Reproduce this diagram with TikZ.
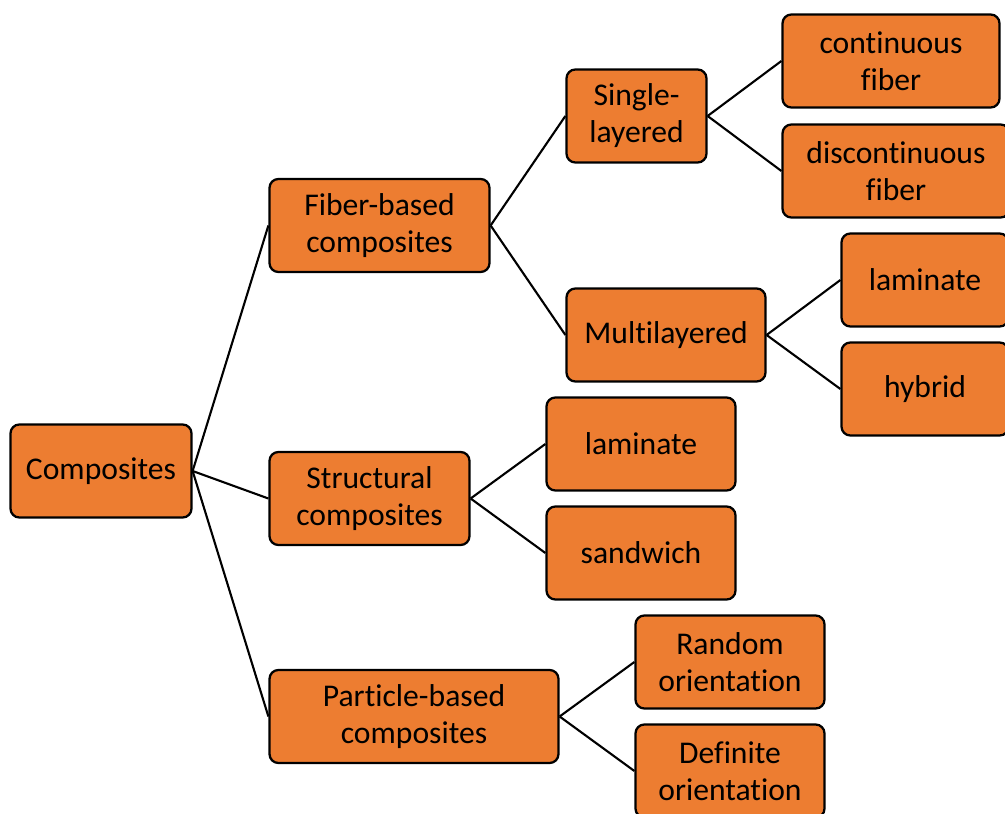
\documentclass[tikz,border=0pt]{standalone}
\usepackage{fontspec}
\setmainfont[Ligatures={NoCommon}]{Carlito}
\usepackage{tikz}
\definecolor{naranja}{HTML}{ED7D31}

\begin{document}
\begin{tikzpicture}[x=0.02cm, y=-0.02cm]

\tikzset{
  nodo/.style={rectangle, rounded corners=5pt,
    minimum height=1.86cm, draw=black, line width=1.3pt,
    fill=naranja, align=center,
    font=\fontsize{18}{21}\selectfont},
  linea/.style={line width=1.2pt, black}
}

\clip (0,0) rectangle (1005,814);

% ---- ROOT ----
\node (comp) [nodo, minimum width=3.62cm] at (101,471) {Composites};

% ---- SECOND LEVEL ----
\node (fibra)  [nodo, minimum width=4.4cm] at (379.5,225.5)
  {Fiber-based\\composites};
\node (estruc) [nodo, minimum width=4.0cm] at (369.5,498.5)
  {Structural\\composites};
\node (part)   [nodo, minimum width=5.78cm] at (414,716.5)
  {Particle-based\\composites};

% ---- THIRD LEVEL ----
\node (simple) [nodo, minimum width=2.8cm] at (636.5,116)
  {Single-\\layered};
\node (multi)  [nodo, minimum width=3.98cm] at (666,335)
  {Multilayered};
\node (lam1)   [nodo, minimum width=3.78cm] at (641,444) {laminate};
\node (sand)   [nodo, minimum width=3.78cm] at (641,553) {sandwich};
\node (random) [nodo, minimum width=3.78cm] at (730,662)
  {Random\\orientation};
\node (defin)  [nodo, minimum width=3.78cm] at (730,771)
  {Definite\\orientation};

% ---- FOURTH LEVEL ----
\node (cont)   [nodo, minimum width=4.34cm] at (891,61)
  {continuous\\fiber};
\node (discont)[nodo, minimum width=4.54cm] at (896,171)
  {discontinuous\\fiber};
\node (lam2)   [nodo, minimum width=3.34cm] at (925,280) {laminate};
\node (hibr)   [nodo, minimum width=3.34cm] at (925,389) {hybrid};

% ---- CONNECTORS ----
\draw[linea] (comp.east)   -- (fibra.west);
\draw[linea] (comp.east)   -- (estruc.west);
\draw[linea] (comp.east)   -- (part.west);
\draw[linea] (fibra.east)  -- (simple.west);
\draw[linea] (fibra.east)  -- (multi.west);
\draw[linea] (estruc.east) -- (lam1.west);
\draw[linea] (estruc.east) -- (sand.west);
\draw[linea] (part.east)   -- (random.west);
\draw[linea] (part.east)   -- (defin.west);
\draw[linea] (simple.east) -- (cont.west);
\draw[linea] (simple.east) -- (discont.west);
\draw[linea] (multi.east)  -- (lam2.west);
\draw[linea] (multi.east)  -- (hibr.west);

\end{tikzpicture}
\end{document}
